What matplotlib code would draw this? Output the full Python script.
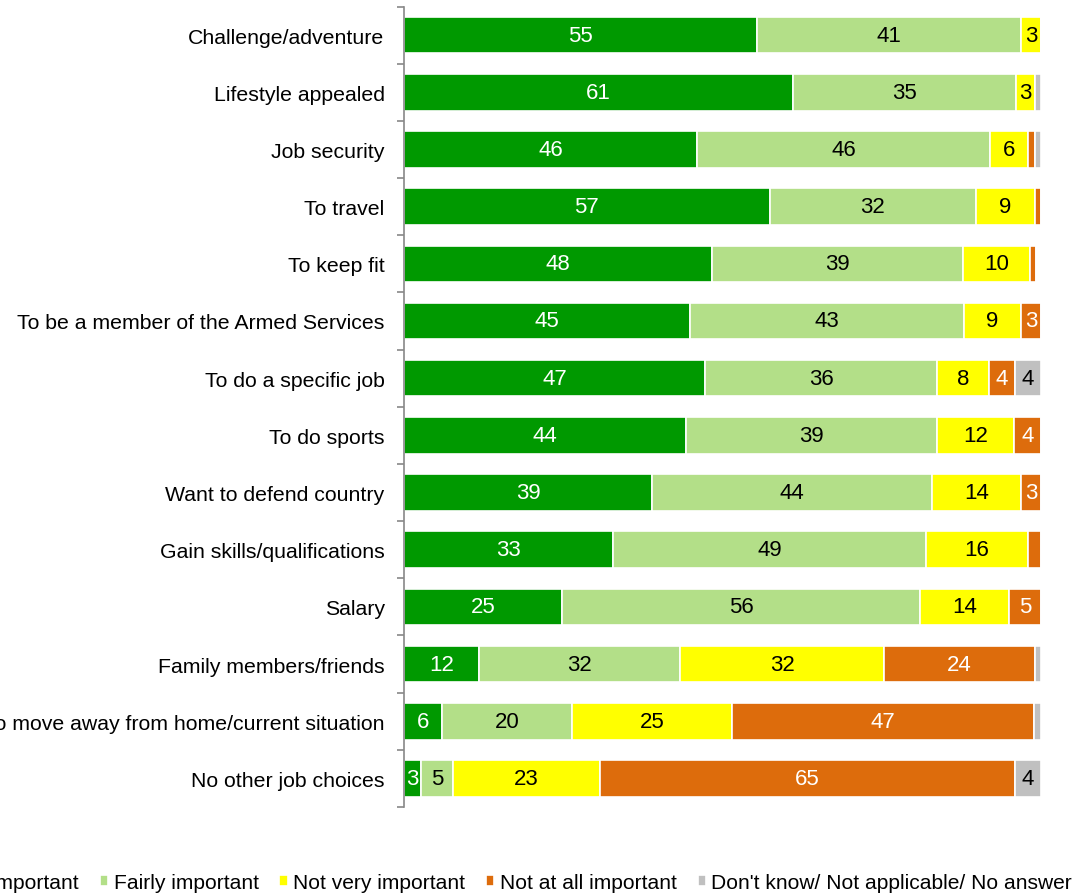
import matplotlib.pyplot as plt
import numpy as np

plt.rcParams["font.family"] = ["Liberation Sans", "DejaVu Sans"]

categories = [
    "Challenge/adventure",
    "Lifestyle appealed",
    "Job security",
    "To travel",
    "To keep fit",
    "To be a member of the Armed Services",
    "To do a specific job",
    "To do sports",
    "Want to defend country",
    "Gain skills/qualifications",
    "Salary",
    "Family members/friends",
    "To move away from home/current situation",
    "No other job choices",
]

# percentages (labels show them rounded)
very = [55.4, 61.1, 46.0, 57.4, 48.4, 44.9, 47.3, 44.2, 38.9, 32.8, 24.8, 11.7, 6.0, 2.7]
fairly = [41.4, 35.0, 46.0, 32.4, 39.4, 43.0, 36.4, 39.4, 44.0, 49.1, 56.2, 31.7, 20.3, 5.0]
not_very = [3.2, 2.9, 6.0, 9.2, 10.4, 9.0, 8.1, 12.2, 14.0, 16.1, 14.0, 31.9, 25.2, 23.1]
not_at_all = [0, 0, 1.0, 1.0, 1.0, 3.1, 4.1, 4.2, 3.1, 2.0, 5.0, 23.7, 47.4, 65.1]
dont_know = [0, 1.0, 1.0, 0, 0, 0, 4.1, 0, 0, 0, 0, 1.0, 1.1, 4.1]

series = ["Very important", "Fairly important", "Not very important",
          "Not at all important", "Don't know/ Not applicable/ No answer"]
colors = ["#009900", "#b3df88", "#ffff00", "#dd6c0c", "#c0c0c0"]
text_colors = ["white", "black", "black", "white", "black"]

fig = plt.figure(figsize=(10.78, 8.95), dpi=100)
ax = fig.add_axes([0.3748, 0.0972, 0.5909, 0.8944])

y = np.arange(len(categories))
left = np.zeros(len(categories))
for vals, col, tcol, name in zip([very, fairly, not_very, not_at_all, dont_know],
                                  colors, text_colors, series):
    vals = np.array(vals, dtype=float)
    ax.barh(y, vals, left=left, height=0.64, color=col, edgecolor="white",
            linewidth=1.2, label=name)
    for yi, (l, v) in enumerate(zip(left, vals)):
        if v >= 2.5:
            ax.text(l + v / 2, yi, f"{round(v)}", ha="center", va="center",
                    color=tcol, fontsize=16)
    left += vals

ax.set_xlim(0, 100)
ax.set_ylim(len(categories) - 0.5, -0.5)
ax.set_yticks(y)
ax.set_yticklabels(categories, fontsize=15.3)
ax.tick_params(axis="y", length=0, pad=14)
ax.set_yticks(np.arange(-0.5, len(categories)), minor=True)
ax.tick_params(axis="y", which="minor", length=5, color="#888888", width=1.2)
ax.set_xticks([])
for s in ["top", "right", "bottom"]:
    ax.spines[s].set_visible(False)
ax.spines["left"].set_color("#888888")
ax.spines["left"].set_linewidth(1.2)

fig.legend(loc="center right", bbox_to_anchor=(0.9944, 0.013), ncol=5,
           frameon=False, fontsize=15.1, handlelength=0.4, handleheight=0.4,
           handletextpad=0.25, columnspacing=1.0, borderpad=0, borderaxespad=0)

fig.savefig("out.png", dpi=100)
